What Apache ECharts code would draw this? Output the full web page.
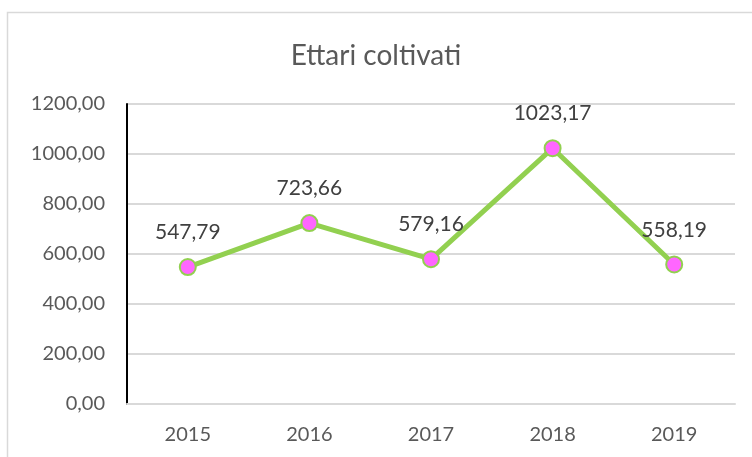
<!DOCTYPE html>
<html>
<head>
<meta charset="utf-8">
<script src="https://cdn.jsdelivr.net/npm/echarts@6/dist/echarts.min.js"></script>
<style>
  html, body { margin: 0; padding: 0; background: #fff; }
  #chart { width: 752px; height: 457px; }
</style>
</head>
<body>
<div id="chart"></div>
<script>
// Ettari coltivati per anno
const years = ["2015", "2016", "2017", "2018", "2019"];
const hectares = [547.79, 723.66, 579.16, 1023.17, 558.19];

const FONT = "Lato, 'Open Sans', sans-serif";
const fmt = (v) => Number(v).toFixed(2).replace(".", ",");

const chart = echarts.init(document.getElementById("chart"));
chart.setOption({
  animation: false,
  textStyle: { fontFamily: FONT },
  title: {
    text: "Ettari coltivati", left: "center", top: 37,
    textStyle: { color: "#595959", fontSize: 28, fontWeight: "normal", fontFamily: FONT }
  },
  graphic: [{
    type: "rect", silent: true,
    shape: { x: 7.5, y: 12.5, width: 800, height: 500 },
    style: { fill: "none", stroke: "#d9d9d9", lineWidth: 1.5 }
  }],
  grid: { left: 127, right: 17, top: 104, bottom: 53 },
  xAxis: {
    type: "category", data: years, boundaryGap: true,
    axisLine: { lineStyle: { color: "#d9d9d9", width: 2 } },
    axisTick: { show: false },
    axisLabel: { color: "#595959", fontSize: 20, margin: 21, fontFamily: FONT }
  },
  yAxis: {
    type: "value", min: 0, max: 1200, interval: 200,
    axisLine: { show: true, lineStyle: { color: "#000", width: 2 } },
    axisTick: { show: false },
    splitLine: { lineStyle: { color: "#d9d9d9", width: 2 } },
    axisLabel: { color: "#595959", fontSize: 20, margin: 22, fontFamily: FONT, formatter: fmt }
  },
  series: [{
    type: "line", data: hectares,
    symbol: "circle", symbolSize: 16,
    lineStyle: { color: "#92d050", width: 5 },
    itemStyle: { color: "#ff66ff", borderColor: "#92d050", borderWidth: 2 },
    label: {
      show: true, position: "top", distance: 15,
      color: "#404040", fontSize: 21, fontFamily: FONT,
      formatter: (p) => fmt(p.value)
    }
  }]
});
</script>
</body>
</html>
